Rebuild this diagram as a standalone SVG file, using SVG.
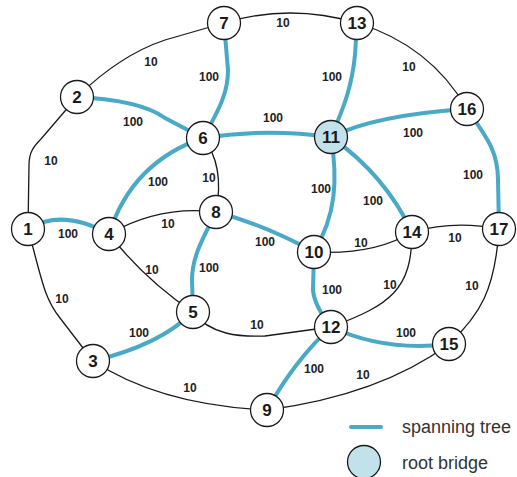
<svg xmlns="http://www.w3.org/2000/svg" width="517" height="477" viewBox="0 0 517 477">
  <style>
    .link { fill: none; stroke: #1a1a1a; stroke-width: 1.3; }
    .tree { fill: none; stroke: #49a9c6; stroke-width: 4; stroke-linecap: round; }
    .cost { font-family: "Liberation Sans", Arial, sans-serif; font-size: 12px; font-weight: bold; fill: #222; text-anchor: middle; dominant-baseline: central; }
    .node circle { fill: #fff; stroke: #1a1a1a; stroke-width: 1.3; }
    .node text { font-family: "Liberation Sans", Arial, sans-serif; font-size: 17px; font-weight: bold; fill: #1a1a1a; text-anchor: middle; dominant-baseline: central; }
    #n11 circle { fill: #c1e2eb; }
    .legend { font-family: "Liberation Sans", Arial, sans-serif; font-size: 18px; fill: #333; }
  </style>

  <g id="connectors">
    <!-- ordinary links (cost 10) -->
    <path class="link" d="M28,229 L29,165 C29,153 33,147 41,139 L77,97"/>
    <path class="link" d="M77,97 Q120,55 165,40 L224,23"/>
    <path class="link" d="M224,23 Q290,3 357,23"/>
    <path class="link" d="M357,23 Q430,45 467,109"/>
    <path class="link" d="M203,138 Q225,165 216,212"/>
    <path class="link" d="M109,234 Q160,205 216,212"/>
    <path class="link" d="M109,234 Q145,280 193,312"/>
    <path class="link" d="M314,252 Q375,255 412,232"/>
    <path class="link" d="M412,232 Q455,220 499,229"/>
    <path class="link" d="M412,232 C412,290 390,305 331,327"/>
    <path class="link" d="M499,229 C495,290 480,315 449,344"/>
    <path class="link" d="M193,312 C210,335 240,337 265,336 L331,327"/>
    <path class="link" d="M93,361 Q160,405 267,410"/>
    <path class="link" d="M267,410 Q380,395 449,344"/>
    <path class="link" d="M28,229 C42,280 44,298 60,318 L93,361"/>

    <!-- spanning tree links -->
    <path class="tree" d="M28,229 Q62,208 109,234"/>
    <path class="tree" d="M77,97 Q140,100 165,118 L203,138"/>
    <path class="tree" d="M224,23 L228,70 C228,90 222,105 203,138"/>
    <path class="tree" d="M357,23 L355,55 C352,85 345,105 331,137"/>
    <path class="tree" d="M203,138 Q265,128 331,137"/>
    <path class="tree" d="M203,138 Q132,162 109,234"/>
    <path class="tree" d="M331,137 Q375,115 467,109"/>
    <path class="tree" d="M331,137 C338,180 336,215 314,252"/>
    <path class="tree" d="M331,137 Q385,175 412,232"/>
    <path class="tree" d="M467,109 C485,135 498,150 498,180 L499,229"/>
    <path class="tree" d="M216,212 C205,235 192,255 192,280 L193,312"/>
    <path class="tree" d="M216,212 Q265,225 314,252"/>
    <path class="tree" d="M314,252 L313,290 Q314,305 331,327"/>
    <path class="tree" d="M193,312 Q160,345 93,361"/>
    <path class="tree" d="M331,327 Q385,352 449,344"/>
    <path class="tree" d="M331,327 Q295,360 267,410"/>
  </g>

  <g id="costs">
    <text class="cost" x="151" y="62">10</text>
    <text class="cost" x="209" y="77">100</text>
    <text class="cost" x="133" y="122">100</text>
    <text class="cost" x="51" y="161">10</text>
    <text class="cost" x="158" y="182">100</text>
    <text class="cost" x="209" y="178">10</text>
    <text class="cost" x="168" y="224">10</text>
    <text class="cost" x="68" y="234">100</text>
    <text class="cost" x="152" y="270">10</text>
    <text class="cost" x="209" y="268">100</text>
    <text class="cost" x="62" y="299">10</text>
    <text class="cost" x="139" y="333">100</text>
    <text class="cost" x="190" y="388">10</text>
    <text class="cost" x="283" y="23">10</text>
    <text class="cost" x="332" y="77">100</text>
    <text class="cost" x="409" y="67">10</text>
    <text class="cost" x="273" y="118">100</text>
    <text class="cost" x="413" y="133">100</text>
    <text class="cost" x="321" y="189">100</text>
    <text class="cost" x="373" y="201">100</text>
    <text class="cost" x="473" y="175">100</text>
    <text class="cost" x="265" y="242">100</text>
    <text class="cost" x="361" y="243">10</text>
    <text class="cost" x="455" y="238">10</text>
    <text class="cost" x="332" y="290">100</text>
    <text class="cost" x="390" y="285">10</text>
    <text class="cost" x="472" y="286">10</text>
    <text class="cost" x="257" y="325">10</text>
    <text class="cost" x="406" y="333">100</text>
    <text class="cost" x="314" y="369">100</text>
    <text class="cost" x="363" y="375">10</text>
  </g>

  <g id="n1" class="node"><circle cx="28" cy="229" r="16.5"/><text x="28" y="229">1</text></g>
  <g id="n2" class="node"><circle cx="77" cy="97" r="16.5"/><text x="77" y="97">2</text></g>
  <g id="n3" class="node"><circle cx="93" cy="361" r="16.5"/><text x="93" y="361">3</text></g>
  <g id="n4" class="node"><circle cx="109" cy="234" r="16.5"/><text x="109" y="234">4</text></g>
  <g id="n5" class="node"><circle cx="193" cy="312" r="16.5"/><text x="193" y="312">5</text></g>
  <g id="n6" class="node"><circle cx="203" cy="138" r="16.5"/><text x="203" y="138">6</text></g>
  <g id="n7" class="node"><circle cx="224" cy="23" r="16.5"/><text x="224" y="23">7</text></g>
  <g id="n8" class="node"><circle cx="216" cy="212" r="16.5"/><text x="216" y="212">8</text></g>
  <g id="n9" class="node"><circle cx="267" cy="410" r="16.5"/><text x="267" y="410">9</text></g>
  <g id="n10" class="node"><circle cx="314" cy="252" r="16.5"/><text x="314" y="252">10</text></g>
  <g id="n11" class="node"><circle cx="331" cy="137" r="16.5"/><text x="331" y="137">11</text></g>
  <g id="n12" class="node"><circle cx="331" cy="327" r="16.5"/><text x="331" y="327">12</text></g>
  <g id="n13" class="node"><circle cx="357" cy="23" r="16.5"/><text x="357" y="23">13</text></g>
  <g id="n14" class="node"><circle cx="412" cy="232" r="16.5"/><text x="412" y="232">14</text></g>
  <g id="n15" class="node"><circle cx="449" cy="344" r="16.5"/><text x="449" y="344">15</text></g>
  <g id="n16" class="node"><circle cx="467" cy="109" r="16.5"/><text x="467" y="109">16</text></g>
  <g id="n17" class="node"><circle cx="499" cy="229" r="16.5"/><text x="499" y="229">17</text></g>

  <g id="legend">
    <line class="tree" x1="351" y1="427" x2="381" y2="427"/>
    <text class="legend" x="402" y="433">spanning tree</text>
    <circle cx="364" cy="462" r="16.5" fill="#c1e2eb" stroke="#1a1a1a" stroke-width="1.3"/>
    <text class="legend" x="402" y="469">root bridge</text>
  </g>
</svg>
